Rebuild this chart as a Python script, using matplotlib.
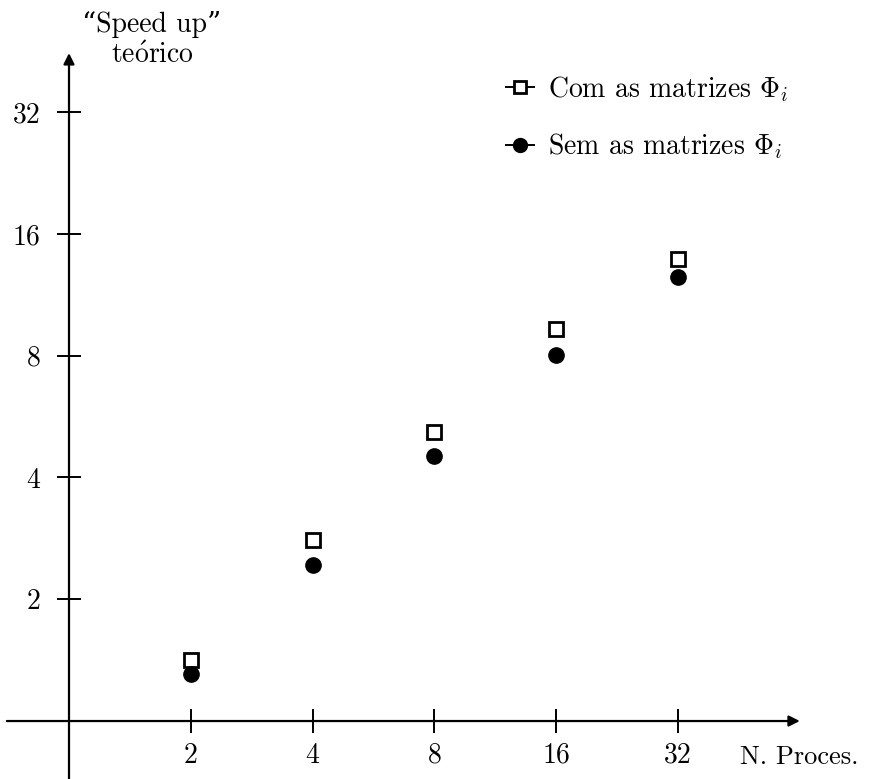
import matplotlib
matplotlib.use('Agg')
import matplotlib.pyplot as plt
from matplotlib.lines import Line2D

plt.rcParams['font.family'] = ['cmr10', 'DejaVu Serif']
plt.rcParams['mathtext.fontset'] = 'cm'
plt.rcParams['axes.unicode_minus'] = False

procs = [2, 4, 8, 16, 32]
com_phi = [1.415, 2.80, 5.18, 9.31, 13.9]
sem_phi = [1.31, 2.43, 4.52, 8.03, 12.5]
yticks = [2, 4, 8, 16, 32]

fig = plt.figure(figsize=(8.74, 7.79), dpi=100)
ax = fig.add_axes([0, 0, 1, 1])
ax.set_xscale('log', base=2)
ax.set_yscale('log', base=2)
ax.set_xlim(2 ** -0.5665, 2 ** 6.609)
ax.set_ylim(2 ** -0.476, 2 ** 5.920)

for s in ax.spines.values():
    s.set_visible(False)
ax.spines['left'].set_position(('data', 1))
ax.spines['bottom'].set_position(('data', 1))

# axis lines with arrow heads
ax.annotate('', xy=(2 ** 6.0, 1), xytext=(2 ** -0.51, 1),
            arrowprops=dict(arrowstyle='-|>', lw=1.6, color='black', mutation_scale=16,
                            shrinkA=0, shrinkB=0), annotation_clip=False)
ax.annotate('', xy=(1, 2 ** 5.484), xytext=(1, 2 ** -0.6),
            arrowprops=dict(arrowstyle='-|>', lw=1.6, color='black', mutation_scale=16,
                            shrinkA=0, shrinkB=0), annotation_clip=False)

ax.set_xticks(procs, labels=[str(p) for p in procs])
ax.set_yticks(yticks, labels=[str(v) for v in yticks])
ax.minorticks_off()
ax.tick_params(direction='inout', length=17, width=1.4, labelsize=20, colors='black')
ax.tick_params(axis='x', pad=7)
ax.tick_params(axis='y', pad=12)

ax.plot(procs, com_phi, linestyle='none', marker='s', markersize=10, markerfacecolor='white',
        markeredgecolor='black', markeredgewidth=2)
ax.plot(procs, sem_phi, linestyle='none', marker='o', markersize=11, color='black')

handles = [
    Line2D([], [], color='black', lw=1.4, marker='s', markersize=9, markerfacecolor='white',
           markeredgecolor='black', markeredgewidth=2),
    Line2D([], [], color='black', lw=1.4, marker='o', markersize=10),
]
ax.legend(handles, [r'Com as matrizes $\Phi_i$', r'Sem as matrizes $\Phi_i$'],
          loc='upper left', bbox_to_anchor=(506 / 874, 1 - 74 / 779), frameon=False,
          handlelength=1.0, handletextpad=0.5, labelspacing=1.0, fontsize=20,
          borderaxespad=0, borderpad=0)

fig.text(152 / 874, 1 - 25 / 779, '\u201cSpeed up\u201d', ha='center', va='center', fontsize=20)
fig.text(152 / 874, 1 - 56 / 779, r'te$\acute{\mathrm{o}}$rico', ha='center', va='center',
         fontsize=20)
fig.text(740 / 874, 1 - 757 / 779, 'N. Proces.', ha='left', va='center', fontsize=19)

fig.savefig('out.png', dpi=100)
